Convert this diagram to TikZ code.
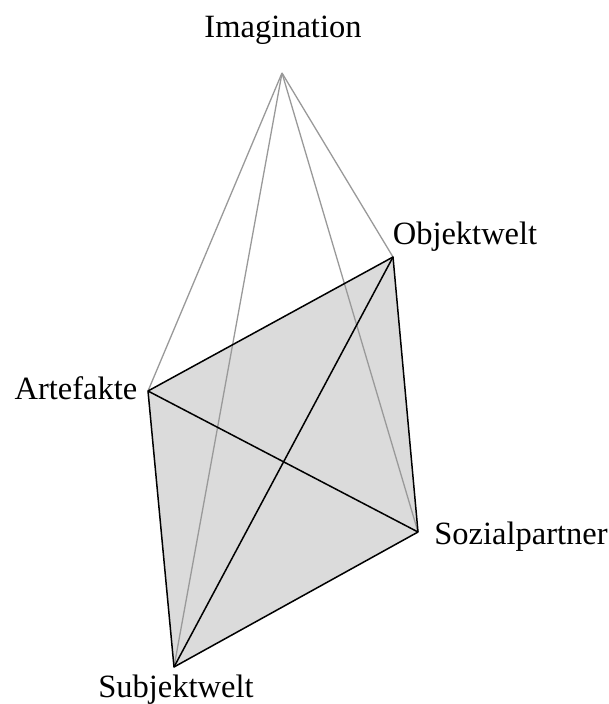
\documentclass[tikz,border=0pt]{standalone}
\usepackage{fontspec}
\setmainfont{Liberation Serif}
\begin{document}
\begin{tikzpicture}[x=1pt,y=-1pt,
  lbl/.style={font=\fontsize{32.5}{38}\selectfont, inner sep=0pt, anchor=center},
  grayedge/.style={draw=black!40, line width=1.3pt},
  blackedge/.style={draw=black, line width=1.5pt, line join=round}]
\useasboundingbox (0,0) rectangle (608,704);
\coordinate (I) at (282,73);
\coordinate (O) at (393,257);
\coordinate (A) at (148,391);
\coordinate (S) at (418,532);
\coordinate (U) at (174,667);
\fill[black!14] (A) -- (O) -- (S) -- (U) -- cycle;
\draw[grayedge] (I) -- (A);
\draw[grayedge] (I) -- (U);
\draw[grayedge] (I) -- (S);
\draw[grayedge] (I) -- (O);
\draw[blackedge] (A) -- (O) -- (S) -- (U) -- cycle;
\draw[blackedge] (A) -- (S);
\draw[blackedge] (O) -- (U);
\node[lbl] (tI) at (283,30) {Imagination};
\node[lbl] (tO) at (465,237) {Objektwelt};
\node[lbl] (tA) at (76,388) {Artefakte};
\node[lbl] (tS) at (521,537) {Sozialpartner};
\node[lbl] (tU) at (176,690) {Subjektwelt};
\end{tikzpicture}
\end{document}
